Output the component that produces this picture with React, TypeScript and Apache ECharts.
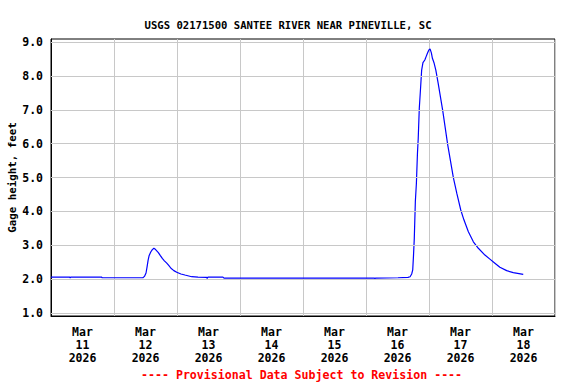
import React, { useEffect, useRef } from "react";
import * as echarts from "echarts";

const TITLE = "USGS 02171500 SANTEE RIVER NEAR PINEVILLE, SC";
const Y_NAME = "Gage height, feet";
const FOOTER = "---- Provisional Data Subject to Revision ----";

// x labels, one per day (Mar 11 .. Mar 18, 2026)
const dayLabels = [
  "Mar\n11\n2026",
  "Mar\n12\n2026",
  "Mar\n13\n2026",
  "Mar\n14\n2026",
  "Mar\n15\n2026",
  "Mar\n16\n2026",
  "Mar\n17\n2026",
  "Mar\n18\n2026",
];

const yTicks = [1, 2, 3, 4, 5, 6, 7, 8, 9];

// hours since Mar 11 2026 00:00
const hours = [
  0, 7, 7.3, 7.6, 19.2, 19.5, 35.0, 35.6, 36.2, 36.6, 37.0, 37.4, 38.0, 38.6,
  39.2, 39.6, 40.2, 40.9, 41.6, 42.4, 43.2, 44.1, 45.0, 45.7, 46.8, 47.9, 49.5,
  51.0, 53.6, 56.0, 59.3, 59.5, 59.8, 65.5, 65.9, 90.0, 123.2, 123.4, 123.6,
  132.2, 136.0, 136.8, 137.4, 137.8, 138.1, 138.4, 138.8, 139.2, 139.6, 139.9,
  140.3, 140.7, 141.2, 141.7, 142.4, 142.9, 143.4, 143.9, 144.4, 144.9, 145.3,
  145.9, 146.6, 147.5, 149.2, 151.1, 153.3, 154.6, 156.1, 157.3, 159.0, 160.9,
  162.8, 165.3, 167.2, 169.1, 171.0, 173.6, 176.1, 179.9,
];

const gageHeight = [
  2.06, 2.06, 2.04, 2.06, 2.06, 2.04, 2.04, 2.08, 2.18, 2.36, 2.56, 2.7, 2.8,
  2.87, 2.91, 2.89, 2.84, 2.78, 2.7, 2.61, 2.54, 2.47, 2.39, 2.32, 2.25, 2.2,
  2.15, 2.12, 2.07, 2.06, 2.05, 2.02, 2.06, 2.06, 2.03, 2.03, 2.03, 2.01, 2.03,
  2.04, 2.05, 2.07, 2.15, 2.27, 2.7, 3.21, 4.29, 4.83, 5.71, 6.16, 7.04, 7.53,
  8.17, 8.39, 8.47, 8.57, 8.67, 8.76, 8.8, 8.68, 8.52, 8.39, 8.17, 7.78, 6.99,
  5.98, 4.99, 4.53, 4.04, 3.75, 3.4, 3.1, 2.91, 2.71, 2.59, 2.47, 2.35, 2.25,
  2.19, 2.14,
];

const FONT = "'DejaVu Sans Mono', 'Liberation Mono', monospace";

export default function App() {
  const ref = useRef<HTMLDivElement>(null);

  useEffect(() => {
    if (!ref.current) return;
    const chart = echarts.init(ref.current, null, { renderer: "svg" });
    const data = hours.map((h, i) => [h, gageHeight[i]]);
    chart.setOption({
      animation: false,
      backgroundColor: "#ffffff",
      title: {
        text: TITLE,
        left: 283,
        textAlign: "center",
        top: 14,
        textStyle: {
          fontFamily: FONT,
          fontWeight: "bold",
          fontSize: 10.6,
          color: "#000",
        },
      },
      grid: {
        left: 51,
        right: 21,
        top: 39,
        bottom: 68,
        show: true,
        borderColor: "#000",
        borderWidth: 1,
        backgroundColor: "transparent",
        containLabel: false,
        outerBoundsMode: "none",
      },
      xAxis: [
        {
          type: "value",
          min: 0,
          max: 192,
          interval: 24,
          axisLine: { show: true, lineStyle: { color: "#000", width: 1 } },
          axisTick: { show: false },
          axisLabel: { show: false },
          splitLine: { show: true, lineStyle: { color: "#c8c8c8", width: 1 } },
        },
        {
          type: "category",
          position: "bottom",
          data: dayLabels,
          boundaryGap: true,
          axisLine: { show: false },
          axisTick: { show: false },
          splitLine: { show: false },
          axisLabel: {
            show: true,
            interval: 0,
            margin: 9,
            fontFamily: FONT,
            fontWeight: "bold",
            fontSize: 11.5,
            lineHeight: 13,
            color: "#000",
          },
        },
      ],
      yAxis: {
        type: "value",
        min: 0.91,
        max: 9.09,
        name: Y_NAME,
        nameLocation: "middle",
        nameRotate: 90,
        nameGap: 33,
        nameMoveOverlap: false,
        nameTextStyle: {
          fontFamily: FONT,
          fontWeight: "bold",
          fontSize: 10.8,
          color: "#000",
        },
        axisLine: { show: true, lineStyle: { color: "#000", width: 1 } },
        axisTick: { show: false },
        splitLine: { show: false },
        axisLabel: {
          customValues: yTicks,
          margin: 8,
          fontFamily: FONT,
          fontWeight: "bold",
          fontSize: 11.5,
          color: "#000",
          formatter: (v: number) => v.toFixed(1),
        },
      },
      graphic: [
        {
          type: "text",
          left: 141,
          top: 369,
          style: {
            text: FOOTER,
            fill: "#ff0000",
            font: `bold 11.6px ${FONT}`,
          },
        },
      ],
      series: [
        {
          type: "line",
          data: [],
          z: 1,
          silent: true,
          markLine: {
            silent: true,
            symbol: "none",
            label: { show: false },
            lineStyle: { color: "#c8c8c8", width: 1, type: "solid" },
            data: yTicks.map((v) => ({ yAxis: v })),
          },
        },
        {
          type: "line",
          z: 3,
          data,
          showSymbol: false,
          symbol: "none",
          lineStyle: { color: "#0000ff", width: 1.2 },
          xAxisIndex: 0,
        },
      ],
    });
    return () => chart.dispose();
  }, []);

  return (
    <div
      ref={ref}
      style={{ position: "fixed", left: 0, top: 0, width: 576, height: 384 }}
    />
  );
}
